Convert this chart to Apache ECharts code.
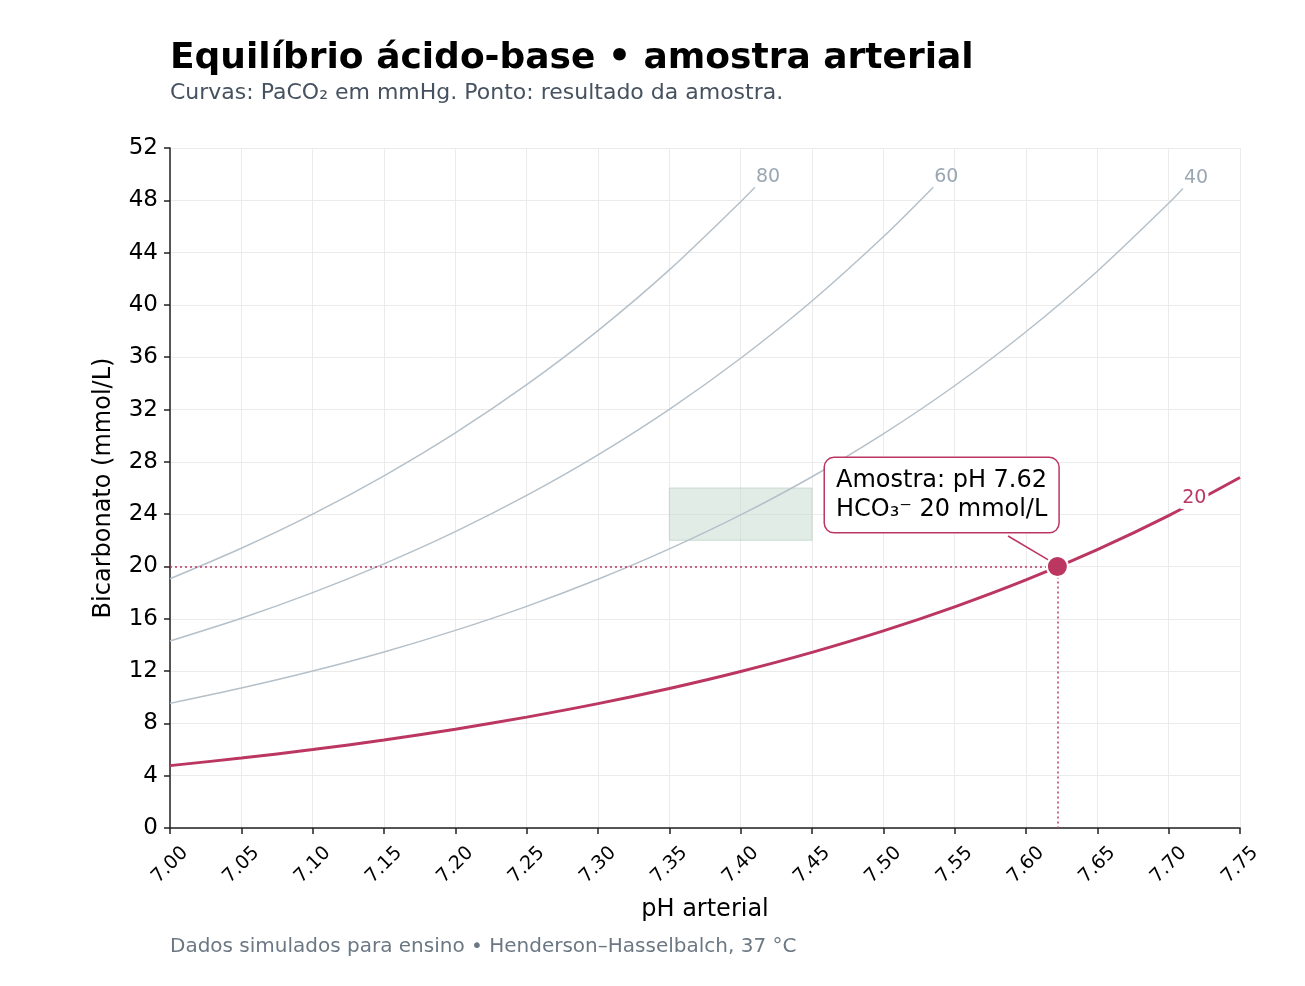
<!DOCTYPE html>
<html>
<head>
<meta charset="utf-8">
<title>Equilíbrio ácido-base</title>
<script src="https://cdn.jsdelivr.net/npm/echarts@6/dist/echarts.min.js"></script>
<style>
  html, body { margin: 0; padding: 0; background: #fff; }
  #chart { width: 1305px; height: 986px; }
</style>
</head>
<body>
<div id="chart"></div>
<script type="text/javascript">
  // pH lido no eixo x, a cada 0.05
  var phTicks = [7.00, 7.05, 7.10, 7.15, 7.20, 7.25, 7.30, 7.35, 7.40, 7.45, 7.50, 7.55, 7.60, 7.65, 7.70, 7.75];

  // HCO3- lido em cada curva de PaCO2 (mmol/L)
  var curve20 = [4.77, 5.35, 6.00, 6.73, 7.55, 8.48, 9.51, 10.67, 11.97, 13.43, 15.07, 16.91, 18.97, 21.29, 23.89, 26.80];
  var curve40 = [9.53, 10.70, 12.00, 13.46, 15.11, 16.95, 19.02, 21.34, 23.94, 26.86, 30.14, 33.82, 37.95, 42.58, 47.77];
  var curve60 = [14.30, 16.04, 18.00, 20.20, 22.66, 25.43, 28.53, 32.01, 35.92, 40.30, 45.21];
  var curve80 = [19.06, 21.39, 24.00, 26.93, 30.21, 33.90, 38.04, 42.68, 47.89];
  // último ponto visível de cada curva cinzenta
  var curveEnds = { '40': [7.71, 48.9], '60': [7.535, 49.0], '80': [7.41, 49.0] };

  var normalPh = [7.35, 7.45];
  var normalHco3 = [22, 26];

  var samplePh = 7.622;
  var sampleHco3 = 20;

  var yTicksMax = 52;

  var crimson = '#bb3761';
  var grey = '#b5c0c9';
  var greyText = '#9aa7b3';
  var font = 'DejaVu Sans';

  function pairs(values, end) {
    var out = [];
    for (var i = 0; i < values.length; i++) {
      out.push([phTicks[i], values[i]]);
    }
    if (end) out.push(end);
    return out;
  }

  function greyCurve(name, values) {
    return {
      name: name,
      type: 'line',
      data: pairs(values, curveEnds[name]),
      smooth: 0.3,
      symbol: 'none',
      silent: true,
      z: 3,
      lineStyle: { color: grey, width: 1.5 },
      endLabel: {
        show: true,
        formatter: name,
        color: greyText,
        fontFamily: font,
        fontSize: 19,
        distance: 1,
        offset: [0, -10]
      }
    };
  }

  var chart = echarts.init(document.getElementById('chart'), null, { renderer: 'canvas' });

  chart.setOption({
    animation: false,
    backgroundColor: '#ffffff',
    title: [{
      text: 'Equilíbrio ácido-base • amostra arterial',
      left: 170,
      top: 41,
      padding: 0,
      textStyle: { fontFamily: font, fontSize: 36, fontWeight: 'bold', color: '#000' }
    }, {
      text: 'Curvas: PaCO₂ em mmHg. Ponto: resultado da amostra.',
      left: 170,
      top: 82,
      padding: 0,
      textStyle: { fontFamily: font, fontSize: 22, fontWeight: 'normal', color: '#46525f' }
    }, {
      text: 'Dados simulados para ensino • Henderson–Hasselbalch, 37 °C',
      left: 170,
      top: 937,
      padding: 0,
      textStyle: { fontFamily: font, fontSize: 20, fontWeight: 'normal', color: '#6b7884' }
    }],
    grid: { left: 170, right: 65, top: 148, bottom: 158, containLabel: false },
    xAxis: {
      type: 'value',
      min: 7.0,
      max: 7.75,
      interval: 0.05,
      name: 'pH arterial',
      nameLocation: 'middle',
      nameGap: 70,
      nameTextStyle: { fontFamily: font, fontSize: 24, color: '#000' },
      axisLine: { lineStyle: { color: '#222222', width: 1.5 } },
      axisTick: { show: true, length: 6, lineStyle: { color: '#222222', width: 1.5 } },
      axisLabel: {
        rotate: 45,
        margin: 37,
        align: 'center',
        verticalAlign: 'middle',
        fontFamily: font,
        fontSize: 19,
        color: '#000',
        formatter: function (v) { return v.toFixed(2); }
      },
      splitLine: { show: true, lineStyle: { color: '#ebebeb', width: 1 } }
    },
    yAxis: {
      type: 'value',
      min: 0,
      max: yTicksMax,
      interval: 4,
      name: 'Bicarbonato (mmol/L)',
      nameLocation: 'middle',
      nameGap: 54,
      nameTextStyle: { fontFamily: font, fontSize: 24, color: '#000' },
      axisLine: { show: true, lineStyle: { color: '#222222', width: 1.5 } },
      axisTick: { show: true, length: 6, lineStyle: { color: '#222222', width: 1.5 } },
      axisLabel: { margin: 12, fontFamily: font, fontSize: 23, color: '#000' },
      splitLine: { show: true, lineStyle: { color: '#ebebeb', width: 1 } }
    },
    series: [
      {
        name: 'normal',
        type: 'line',
        data: [],
        silent: true,
        z: 1,
        markArea: {
          silent: true,
          itemStyle: { color: 'rgba(196, 218, 205, 0.5)', borderColor: 'rgba(180, 205, 190, 0.6)', borderWidth: 1 },
          data: [[
            { coord: [normalPh[0], normalHco3[0]] },
            { coord: [normalPh[1], normalHco3[1]] }
          ]]
        }
      },
      greyCurve('80', curve80),
      greyCurve('60', curve60),
      greyCurve('40', curve40),
      {
        name: '20',
        type: 'line',
        data: pairs(curve20),
        smooth: 0.3,
        symbol: 'none',
        silent: true,
        z: 4,
        lineStyle: { color: crimson, width: 3 },
        markPoint: {
          symbol: 'circle',
          symbolSize: 0,
          silent: true,
          data: [{ coord: [7.718, 25.2] }],
          label: {
            show: true,
            position: 'inside',
            formatter: '20',
            color: crimson,
            fontFamily: font,
            fontSize: 19,
            backgroundColor: '#ffffff',
            padding: [1, 2]
          }
        }
      },
      {
        name: 'Amostra',
        type: 'scatter',
        data: [[samplePh, sampleHco3]],
        symbol: 'circle',
        symbolSize: 21,
        z: 10,
        itemStyle: { color: crimson, borderColor: '#ffffff', borderWidth: 2, opacity: 1 },
        markLine: {
          silent: true,
          symbol: 'none',
          label: { show: false },
          data: [
            [{ coord: [7.0, sampleHco3] }, { coord: [samplePh, sampleHco3] }],
            [{ coord: [samplePh, sampleHco3] }, { coord: [samplePh, 0] }],
            [{ coord: [7.5874, 22.33], lineStyle: { type: 'solid', width: 1.5 } },
             { coord: [7.6168, 20.42] }]
          ],
          lineStyle: { color: crimson, width: 1.5, type: [2, 3] }
        },
        markPoint: {
          symbol: 'circle',
          symbolSize: 0,
          silent: true,
          data: [{ coord: [7.4591, 25.46] }],
          label: {
            show: true,
            position: 'inside',
            formatter: 'Amostra: pH ' + samplePh.toFixed(2) + '\nHCO₃⁻ ' + sampleHco3 + ' mmol/L',
            align: 'left',
            verticalAlign: 'middle',
            color: '#000',
            fontFamily: font,
            fontSize: 24,
            lineHeight: 29,
            backgroundColor: '#ffffff',
            borderColor: crimson,
            borderWidth: 1.5,
            borderRadius: 9,
            padding: [8, 11, 8, 11]
          }
        }
      }
    ]
  });
</script>
</body>
</html>
